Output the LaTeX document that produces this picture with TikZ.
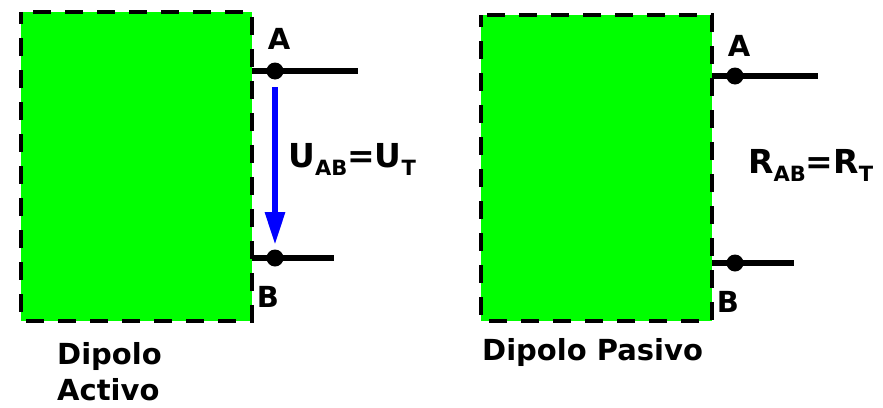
\documentclass[tikz,border=0pt]{standalone}
\usepackage{fontspec}
\setmainfont{DejaVu Sans}
\usetikzlibrary{arrows.meta}
\newcommand{\subind}[1]{\raisebox{-8pt}{\fontsize{21}{21}\selectfont #1}}

\tikzset{
  dipolo/.style={fill=green, draw=black, line width=4.5pt, dash pattern=on 18pt off 14pt, dash phase=6pt},
  borne/.style={circle, fill=black, inner sep=0pt, minimum size=17pt},
  cable/.style={line width=6.5pt},
  rotulo/.style={font=\bfseries\fontsize{29}{34}\selectfont, inner sep=0pt},
  ecuacion/.style={font=\bfseries\fontsize{33}{38}\selectfont, inner sep=0pt, anchor=base west},
  flechaU/.style={blue, line width=6pt, -{Triangle[length=33pt,width=19pt]}}
}

\begin{document}
\begin{tikzpicture}[x=1pt,y=-1pt]
\useasboundingbox (0,0) rectangle (883,407);

% =========================
% DIPOLO ACTIVO
% =========================

\coordinate (P1) at (21,12);
\coordinate (Q1) at (252,321);
\draw[dipolo] (P1) rectangle (Q1);

\coordinate (A1i) at (252,71);
\coordinate (A1e) at (358,71);
\coordinate (B1i) at (252,258);
\coordinate (B1e) at (334,258);
\draw[cable] (A1i) -- (A1e);
\draw[cable] (B1i) -- (B1e);
\node[borne] (A1) at (275,71) {};
\node[borne] (B1) at (275,258) {};

\node[rotulo] (LA1) at (279,39) {A};
\node[rotulo] (LB1) at (268,297) {B};

% U_AB
\coordinate (U1) at (275,87);
\coordinate (U2) at (275,245);
\draw[flechaU] (U1) -- (U2);
\node[ecuacion] (UAB) at (288,167) {U\subind{AB}=U\subind{T}};

\node[rotulo, anchor=base west] (D1) at (57,364) {Dipolo};
\node[rotulo, anchor=base west] (D2) at (57,400) {Activo};

% =========================
% DIPOLO PASIVO
% =========================

\coordinate (P2) at (481,15);
\coordinate (Q2) at (712,321);
\draw[dipolo] (P2) rectangle (Q2);

\coordinate (A2i) at (712,76);
\coordinate (A2e) at (818,76);
\coordinate (B2i) at (712,263);
\coordinate (B2e) at (794,263);
\draw[cable] (A2i) -- (A2e);
\draw[cable] (B2i) -- (B2e);
\node[borne] (A2) at (735,76) {};
\node[borne] (B2) at (735,263) {};

\node[rotulo] (LA2) at (739,46) {A};
\node[rotulo] (LB2) at (728,302) {B};

% R_AB
\node[ecuacion] (RAB) at (748,173) {R\subind{AB}=R\subind{T}};

\node[rotulo, anchor=base west] (D3) at (482,360) {Dipolo Pasivo};
\end{tikzpicture}
\end{document}
